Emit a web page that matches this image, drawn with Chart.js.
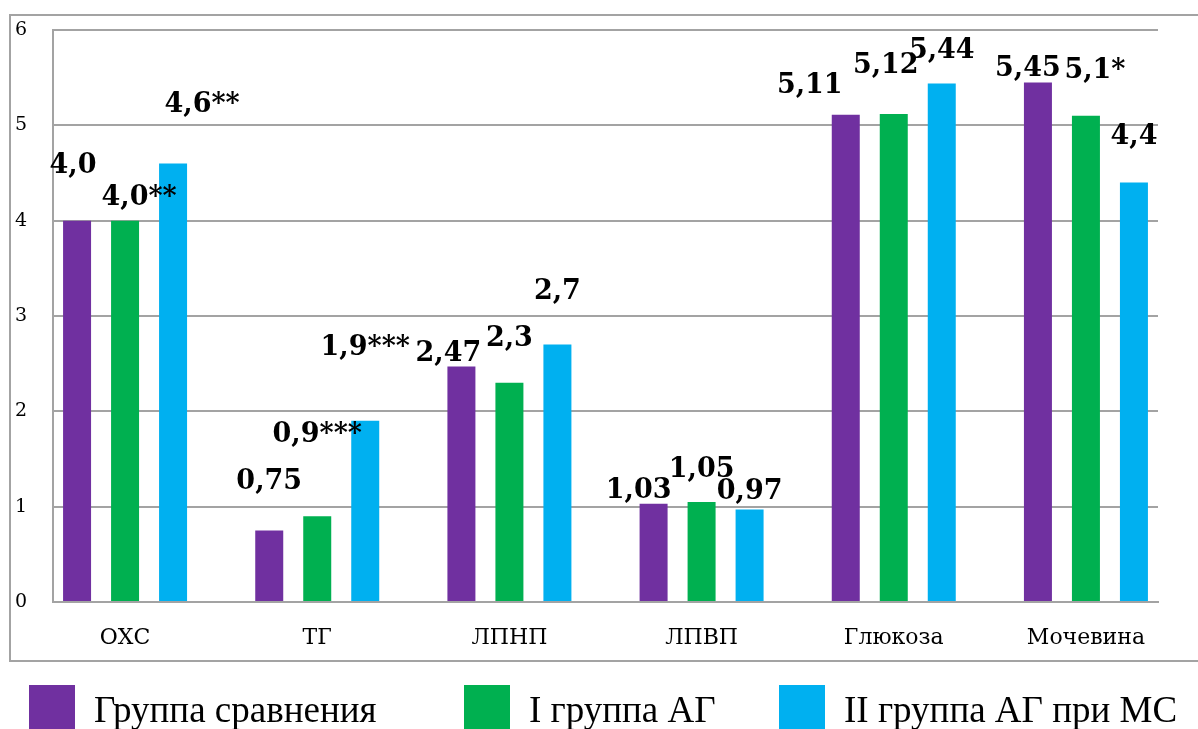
<!DOCTYPE html>
<html>
<head>
<meta charset="utf-8">
<title>Биохимические показатели</title>
<script src="https://cdn.jsdelivr.net/npm/chart.js@4.4.0/dist/chart.umd.min.js"></script>
<style>
  html, body { margin: 0; padding: 0; background: #ffffff; overflow: hidden; }
  canvas { display: block; }
</style>
</head>
<body>
<canvas id="chart" width="1198" height="729" style="width:1198px;height:729px"></canvas>
<script>
// Показатели по группам
const categories = ['ОХС', 'ТГ', 'ЛПНП', 'ЛПВП', 'Глюкоза', 'Мочевина'];
const seriesNames = ['Группа сравнения', 'I группа АГ', 'II группа АГ при МС'];
const comparisonGroup = [4.0, 0.75, 2.47, 1.03, 5.11, 5.45];
const groupI = [4.0, 0.9, 2.3, 1.05, 5.12, 5.1];
const groupII = [4.6, 1.9, 2.7, 0.97, 5.44, 4.4];
// значимость различий
const marksComparison = ['', '', '', '', '', ''];
const marksI = ['**', '***', '', '', '', '*'];
const marksII = ['**', '***', '', '', '', ''];
const yTicks = [0, 1, 2, 3, 4, 5, 6];

// Оформление
const colors = ['#7030A0', '#00B050', '#00B0F0'];
const lineGray = '#a3a3a3';
// сдвиг подписей значений относительно вершины столбца, px: [dx, dy]
const labelShift = [
  [[-4, -42], [0, -36], [-13, 0], [-15, 0], [-36, -16], [-10, 0]],
  [[14, -10], [0, -68], [0, -31], [0, -19], [-8, -35], [9, -32]],
  [[29, -45], [0, -60], [0, -40], [0, -5], [0, -19], [0, -33]]
];
const legendX = [29, 464, 779];
// поля по краям оси категорий (в долях шага)
const xMin = -0.375;
const xMax = categories.length - 1 + 0.375;

function formatValue(v) {
  let s = String(v);
  if (s.indexOf('.') < 0) s = v.toFixed(1);
  return s.replace('.', ',');
}

const seriesValues = [comparisonGroup, groupI, groupII];
const seriesMarks = [marksComparison, marksI, marksII];

const datasets = seriesValues.map((vals, k) => ({
  label: seriesNames[k],
  data: vals.map((v, i) => ({ x: i, y: v })),
  marks: seriesMarks[k],
  backgroundColor: colors[k],
  borderWidth: 0,
  categoryPercentage: 0.7493,
  barPercentage: 0.5833
}));

// Внешняя рамка области диаграммы
const framePlugin = {
  id: 'frame',
  beforeDraw(chart) {
    const c = chart.ctx;
    c.save();
    c.fillStyle = '#ffffff';
    c.fillRect(0, 0, chart.width, chart.height);
    c.strokeStyle = lineGray;
    c.lineWidth = 2;
    c.strokeRect(10, 15, chart.width + 20, 646);
    c.restore();
  }
};

// Подписи значений над столбцами
const valueLabelPlugin = {
  id: 'valueLabels',
  afterDatasetsDraw(chart) {
    const c = chart.ctx;
    c.save();
    c.font = 'bold 27px "DejaVu Serif", serif';
    c.fillStyle = '#000000';
    c.textAlign = 'center';
    c.textBaseline = 'alphabetic';
    chart.data.datasets.forEach((ds, di) => {
      chart.getDatasetMeta(di).data.forEach((bar, i) => {
        const [dx, dy] = labelShift[di][i];
        const text = formatValue(ds.data[i].y) + ds.marks[i];
        c.fillText(text, bar.x + dx, bar.y - 6 + dy);
      });
    });
    c.restore();
  }
};

// Легенда под рамкой
const legendPlugin = {
  id: 'bottomLegend',
  afterDraw(chart) {
    const c = chart.ctx;
    c.save();
    c.font = '37px "Liberation Serif", "Times New Roman", serif';
    c.textAlign = 'left';
    c.textBaseline = 'alphabetic';
    chart.data.datasets.forEach((ds, di) => {
      const x = legendX[di];
      c.fillStyle = ds.backgroundColor;
      c.fillRect(x, 685, 46, 46);
      c.fillStyle = '#000000';
      c.fillText(ds.label, x + 65, 722);
    });
    c.restore();
  }
};

new Chart(document.getElementById('chart'), {
  type: 'bar',
  data: { datasets },
  options: {
    responsive: false,
    animation: false,
    devicePixelRatio: 1,
    layout: { padding: { left: 15, right: 40, top: 30, bottom: 77 } },
    scales: {
      x: {
        type: 'linear',
        min: xMin,
        max: xMax,
        offset: false,
        bounds: 'data',
        afterBuildTicks: (s) => {
          s.ticks = categories.map((_, i) => ({ value: i }));
          s.min = xMin;
          s.max = xMax;
        },
        afterFit: (s) => { s.height = 50; },
        ticks: {
          callback: (v) => categories[v],
          includeBounds: false,
          autoSkip: false,
          maxRotation: 0,
          padding: 23,
          color: '#000000',
          font: { family: '"DejaVu Serif", serif', size: 22 }
        },
        grid: { display: false, drawTicks: false, offset: false },
        border: { display: true, color: lineGray, width: 2 }
      },
      y: {
        min: 0,
        max: 6,
        afterBuildTicks: (s) => { s.ticks = yTicks.map((v) => ({ value: v })); },
        afterFit: (s) => { s.width = 38; },
        ticks: {
          padding: 0,
          crossAlign: 'far',
          color: '#000000',
          font: { family: '"DejaVu Serif", serif', size: 19 }
        },
        grid: { color: lineGray, lineWidth: 2, drawTicks: false },
        border: { display: true, color: lineGray, width: 2 }
      }
    },
    plugins: {
      legend: { display: false },
      tooltip: { enabled: false }
    }
  },
  plugins: [framePlugin, valueLabelPlugin, legendPlugin]
});
</script>
</body>
</html>
